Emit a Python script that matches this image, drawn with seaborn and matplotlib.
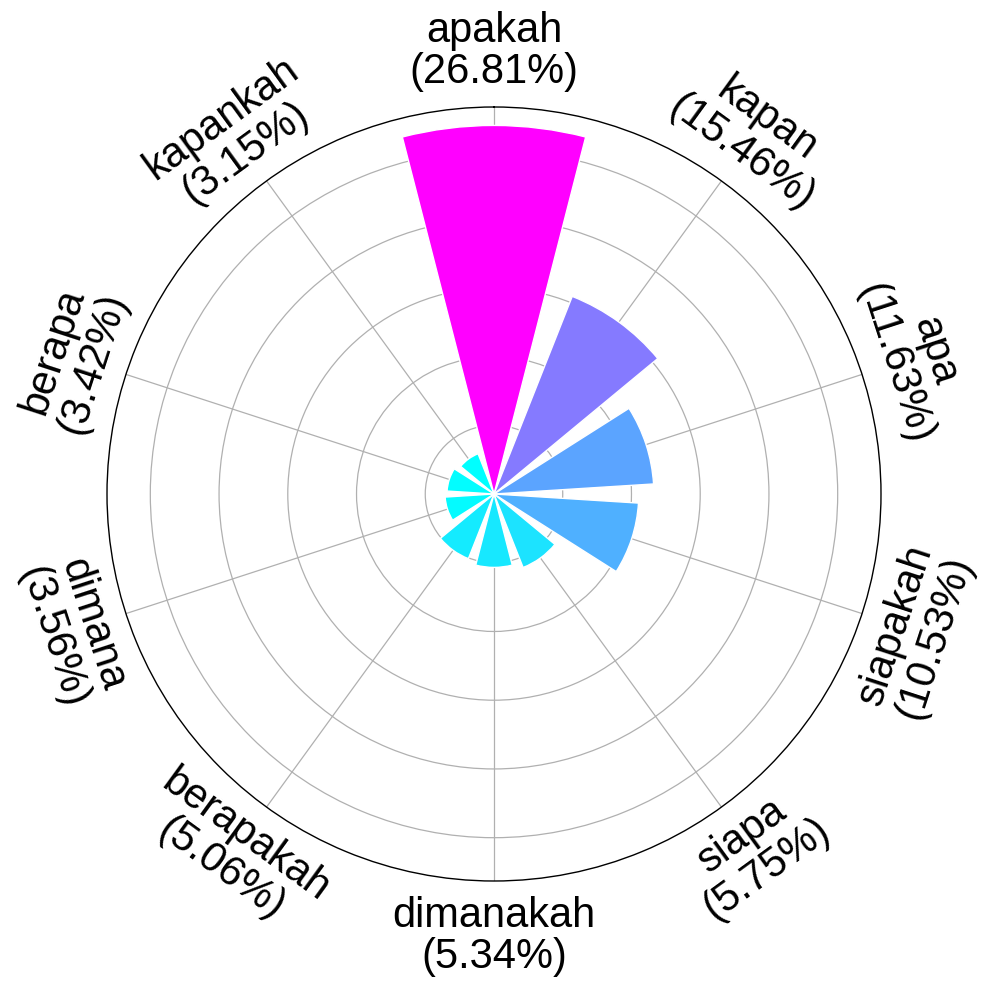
import numpy as np
import matplotlib
matplotlib.use("Agg")
import matplotlib.pyplot as plt
import seaborn as sns

categories = ["apakah", "kapan", "apa", "siapakah", "siapa", "dimanakah",
              "berapakah", "dimana", "berapa", "kapankah"]
values = [26.81, 15.46, 11.63, 10.53, 5.75, 5.34, 5.06, 3.56, 3.42, 3.15]

sns.set_theme(style="white")
plt.rcParams['font.family'] = ['Liberation Sans', 'DejaVu Sans']

fig = plt.figure(figsize=(9.91, 9.89), dpi=100)
ax = fig.add_axes([107/991, 108/989, 774/991, 774/989], projection='polar')
ax.set_theta_zero_location('N')
ax.set_theta_direction(-1)

n = len(categories)
angles = np.arange(n) * 2 * np.pi / n
vmin, vmax = min(values), max(values)
cmap = plt.get_cmap('cool')
colors = [cmap((v - vmin) / (vmax - vmin)) for v in values]

ax.bar(angles, values, width=2 * np.pi / n * 0.8, color=colors,
       edgecolor='white', linewidth=1, zorder=2)

ax.set_ylim(0, vmax * 1.05)
ax.set_yticks([5, 10, 15, 20, 25])
ax.set_yticklabels([])
ax.set_xticks(angles)
ax.set_xticklabels([])
ax.grid(True, color='#b0b0b0', linewidth=0.9)
ax.spines['polar'].set_color('black')
ax.spines['polar'].set_linewidth(1.0)

for ang, cat, v in zip(angles, categories, values):
    deg = np.degrees(ang)
    rot = -deg
    if 90 < deg < 270:
        rot += 180
    ax.text(ang, 32.2, f"{cat}\n({v:.2f}%)", rotation=rot, rotation_mode='anchor',
            ha='center', va='center', fontsize=30, color='black',
            linespacing=1.05)

fig.savefig("out.png", dpi=100, facecolor='white')
